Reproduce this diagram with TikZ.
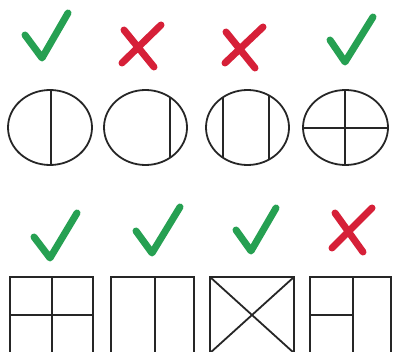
\documentclass[tikz,border=0pt]{standalone}
\definecolor{okgreen}{RGB}{38,160,82}
\definecolor{nored}{RGB}{214,32,56}
\tikzset{
  outline/.style={draw=black!85, line width=1.8pt},
  checkmark/.style={draw=okgreen, line width=7pt, line cap=round, line join=round},
  crossmark/.style={draw=nored, line width=7pt, line cap=round},
}
\begin{document}
\begin{tikzpicture}[x=1pt,y=-1pt]
\useasboundingbox (0,0) rectangle (393,352);
\clip (0,0) rectangle (393,352);
% row 1 marks
\draw[checkmark] (25,35) -- (42,58) -- (68,13);
\draw[crossmark] (124,30) -- (154,67) (161,25) -- (122,63);
\draw[crossmark] (226,32) -- (255,68) (263,27) -- (225,63);
\draw[checkmark] (330,40) -- (345,62) -- (373,17);
% row 1 ellipses
\begin{scope}
  \clip (50,127.5) ellipse [x radius=42, y radius=37.5];
  \draw[outline] (51,80) -- (51,180);
\end{scope}
\draw[outline] (50,127.5) ellipse [x radius=42, y radius=37.5];
\begin{scope}
  \clip (145.5,127.5) ellipse [x radius=41.5, y radius=37.5];
  \draw[outline] (170,80) -- (170,180);
\end{scope}
\draw[outline] (145.5,127.5) ellipse [x radius=41.5, y radius=37.5];
\begin{scope}
  \clip (247.5,127.5) ellipse [x radius=41.5, y radius=37.5];
  \draw[outline] (223,80) -- (223,180) (269,80) -- (269,180);
\end{scope}
\draw[outline] (247.5,127.5) ellipse [x radius=41.5, y radius=37.5];
\begin{scope}
  \clip (345.5,127.5) ellipse [x radius=42.5, y radius=37.5];
  \draw[outline] (345,80) -- (345,180) (290,128) -- (400,128);
\end{scope}
\draw[outline] (345.5,127.5) ellipse [x radius=42.5, y radius=37.5];
% row 2 marks
\draw[checkmark] (34,237) -- (50,258) -- (77,213);
\draw[checkmark] (136,231) -- (152,253) -- (180,207);
\draw[checkmark] (236,230) -- (251,251) -- (276,208);
\draw[crossmark] (335,213) -- (363,252) (372,208) -- (332,248);
% row 2 squares
\draw[outline] (10,277) rectangle (93,353);
\draw[outline] (52,277) -- (52,353) (10,315) -- (93,315);
\draw[outline] (111,277) rectangle (194,353);
\draw[outline] (155,277) -- (155,353);
\draw[outline] (210,277) rectangle (294,353);
\draw[outline] (210,277) -- (294,353) (294,277) -- (210,353);
\draw[outline] (310,277) rectangle (391,353);
\draw[outline] (353,277) -- (353,353) (310,315) -- (353,315);
\end{tikzpicture}
\end{document}
